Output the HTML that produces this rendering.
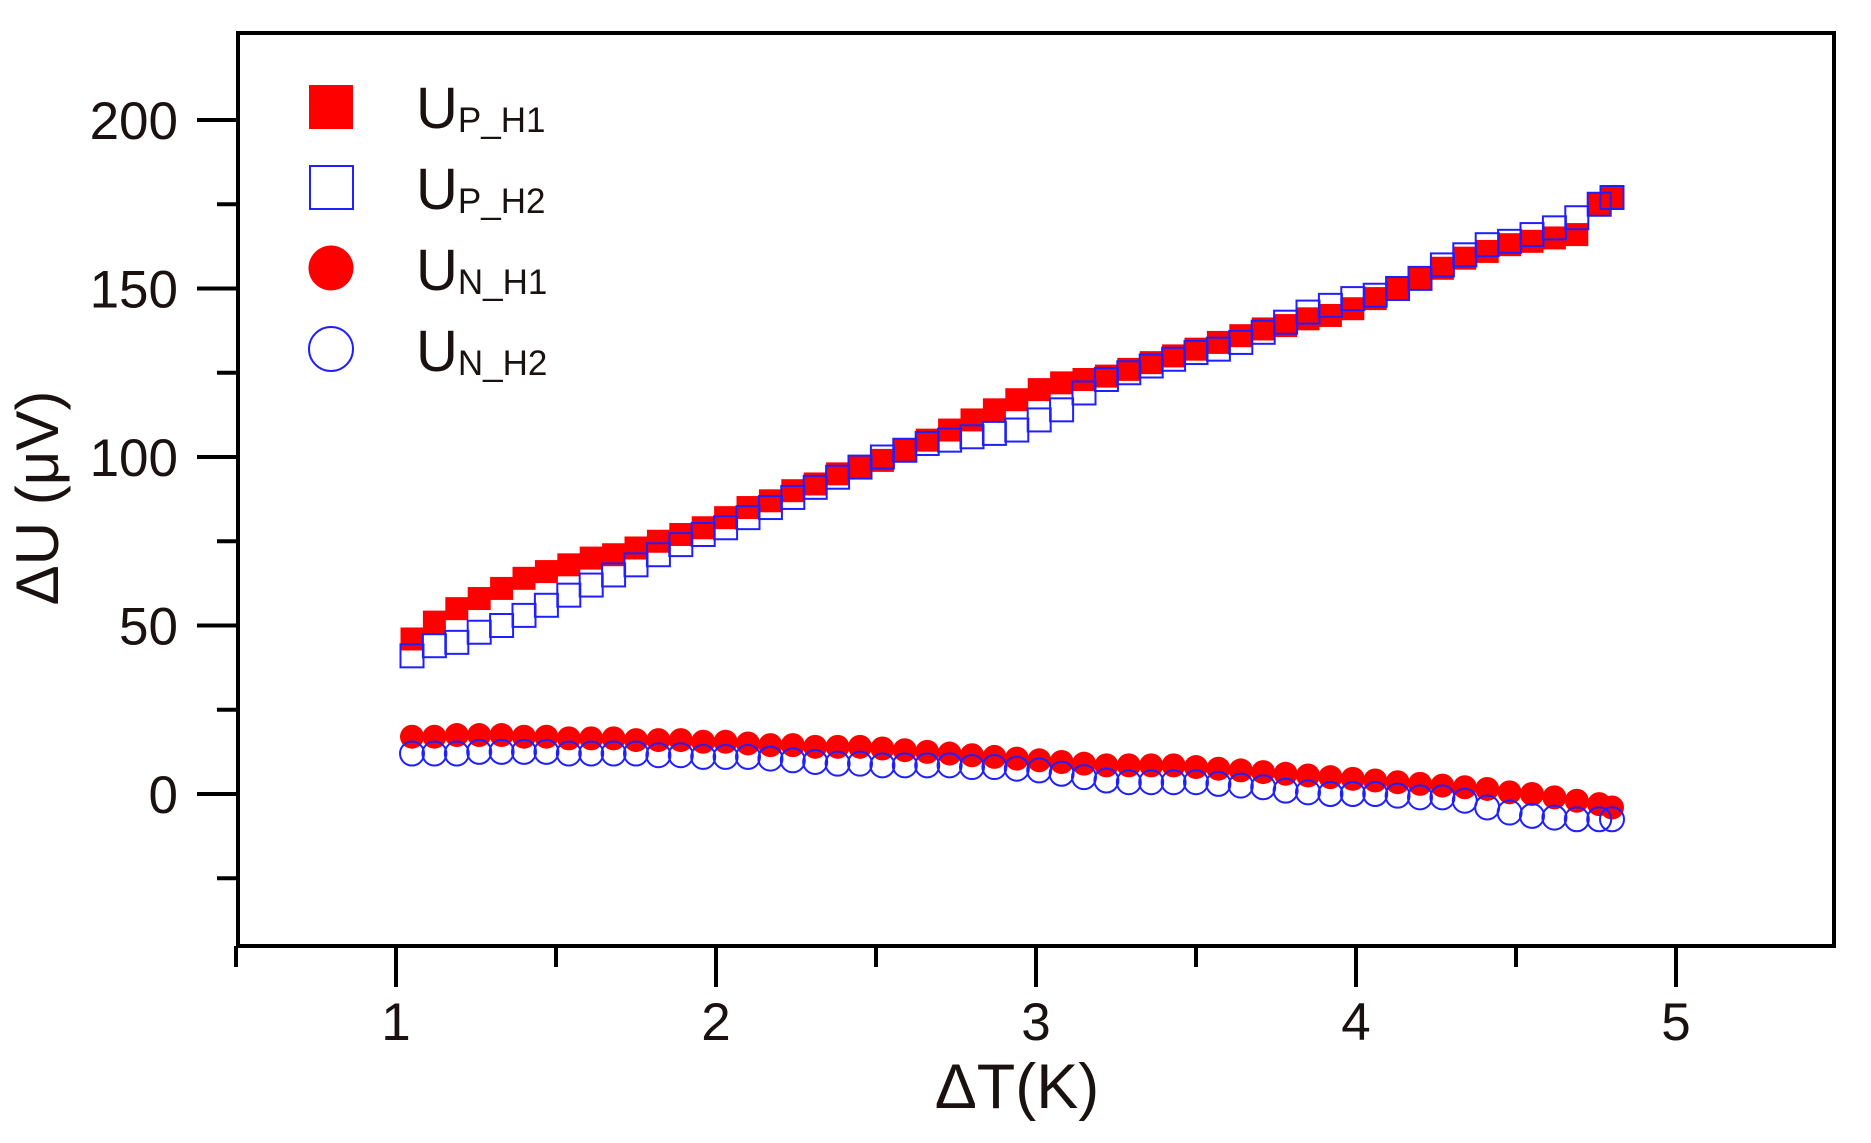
<!DOCTYPE html>
<html><head><meta charset="utf-8"><style>
html,body{margin:0;padding:0;background:#fff;}
svg{display:block;font-family:"Liberation Sans",Arial,sans-serif;}
</style></head><body>
<svg id="chart" width="1871" height="1143" viewBox="0 0 1871 1143">
<g id="axes"></g>
<g id="marks"></g>
<g id="legend">
  <rect x="309" y="85" width="44" height="44" fill="#ff0000"/>
  <text x="416" y="128" font-size="58" fill="#1a1210">U<tspan font-size="35" dy="4">P_H1</tspan></text>
  <rect x="310" y="166" width="43" height="43" fill="none" stroke="#1f1fff" stroke-width="2"/>
  <text x="416" y="209" font-size="58" fill="#1a1210">U<tspan font-size="35" dy="4">P_H2</tspan></text>
  <circle cx="331" cy="268" r="22.5" fill="#ff0000"/>
  <text x="416" y="290" font-size="58" fill="#1a1210">U<tspan font-size="35" dy="4">N_H1</tspan></text>
  <circle cx="331" cy="349" r="22" fill="none" stroke="#1f1fff" stroke-width="2"/>
  <text x="416" y="371" font-size="58" fill="#1a1210">U<tspan font-size="35" dy="4">N_H2</tspan></text>
</g>
<text x="1017" y="1108" font-size="63" text-anchor="middle" fill="#1a1210">ΔT(K)</text>
<text transform="translate(58,498) rotate(-90)" font-size="60" text-anchor="middle" fill="#1a1210">ΔU (μV)</text>
</svg>
<script>
const xs = [1.05,1.12,1.19,1.26,1.33,1.40,1.47,1.54,1.61,1.68,1.75,1.82,1.89,1.96,2.03,2.10,2.17,2.24,2.31,2.38,2.45,2.52,2.59,2.66,2.73,2.80,2.87,2.94,3.01,3.08,3.15,3.22,3.29,3.36,3.43,3.50,3.57,3.64,3.71,3.78,3.85,3.92,3.99,4.06,4.13,4.20,4.27,4.34,4.41,4.48,4.55,4.62,4.69,4.76,4.80];
const upH1 = [46,51,55,58,61,64,66,68,70,71,73,75,77,79,82,85,87,90,92,95,97,99,102,105,108,111,114,117,120,122,123,124,126,128,130,132,134,136,138,139,141,142,144,147,150,153,156,159,161,163,164,165,166,175,177];
const upH2 = [41,44,45,48,50,53,56,59,62,65,68,71,74,77,79,82,85,88,91,94,97,100,102,104,105,106,107,108,111,114,119,123,125,127,129,131,132,134,137,140,143,145,147,148,150,153,157,160,163,164,166,168,171,175,177];
const unH1 = [17,17,17.5,17.5,17.5,17,17,16.5,16.5,16.5,16,16,16,15.5,15.5,15,14.5,14.5,14,14,14,13.5,13,12.5,12,11.5,11,10.5,10,9.5,9,8.5,8.5,8.5,8.5,8,7.5,7,6.5,6,5.5,5,4.5,4,3.5,3,2.5,2,1.5,0.5,0,-1,-2,-3,-4];
const unH2 = [12,12,12,12.5,12.5,12.5,12.5,12,12,12,12,11.5,11.5,11,11,11,10.5,10,9.5,9,9,8.5,8.5,8.5,8.5,8,8,7.5,7,6,5,4,3.5,3.5,3.5,3.5,3,2.5,2,1,0.5,0,0,0,-0.5,-1,-1,-2,-4,-5.5,-6.5,-7,-7.5,-7.5,-7.5];
const xMajor = [1,2,3,4,5];
const xMinor = [0.5,1.5,2.5,3.5,4.5];
const yMajor = [0,50,100,150,200];
const yMinor = [-25,25,75,125,175];

const NS = "http://www.w3.org/2000/svg";
const L = 238, R = 1834, T = 33, B = 946;
function sx(v){ return 396 + (v - 1) * 320; }
function sy(v){ return 794 - v * 3.37; }
function mk(tag, attrs, parent){ const e = document.createElementNS(NS, tag); for (const k in attrs) e.setAttribute(k, attrs[k]); parent.appendChild(e); return e; }
const axes = document.getElementById('axes');
const marks = document.getElementById('marks');

let frame = mk('rect', {x:L, y:T, width:R-L, height:B-T, fill:'none', stroke:'#000', 'stroke-width':4}, axes);



xMajor.forEach(v => {
  const t = mk('line', {x1:sx(v), x2:sx(v), y1:B, y2:B+41, stroke:'#000', 'stroke-width':4}, axes);
  
  
  const lb = mk('text', {x:sx(v), y:B+94, 'font-size':53, 'text-anchor':'middle', fill:'#1a1210'}, axes);
  lb.textContent = String(v);
  
  
});
xMinor.forEach(v => {
  const t = mk('line', {x1:sx(v), x2:sx(v), y1:B, y2:B+21, stroke:'#000', 'stroke-width':4}, axes);
  
  
});
yMajor.forEach(v => {
  const t = mk('line', {x1:L-41, x2:L, y1:sy(v), y2:sy(v), stroke:'#000', 'stroke-width':4}, axes);
  
  
  const lb = mk('text', {x:178, y:sy(v)+19, 'font-size':53, 'text-anchor':'end', fill:'#1a1210'}, axes);
  lb.textContent = String(v);
  
  
});
yMinor.forEach(v => {
  const t = mk('line', {x1:L-21, x2:L, y1:sy(v), y2:sy(v), stroke:'#000', 'stroke-width':4}, axes);
  
  
});

const S = 23;
xs.forEach((x, i) => {
  const r = mk('rect', {x:sx(x)-S/2, y:sy(upH1[i])-S/2, width:S, height:S, fill:'#ff0000'}, marks);
  
  
});
xs.forEach((x, i) => {
  const c = mk('circle', {cx:sx(x), cy:sy(unH1[i]), r:12, fill:'#ff0000'}, marks);
  
  
});
xs.forEach((x, i) => {
  const r = mk('rect', {x:sx(x)-S/2, y:sy(upH2[i])-S/2, width:S, height:S, fill:'none', stroke:'#1f1fff', 'stroke-width':2}, marks);
  
  
});
xs.forEach((x, i) => {
  const c = mk('circle', {cx:sx(x), cy:sy(unH2[i]), r:12, fill:'none', stroke:'#1f1fff', 'stroke-width':2}, marks);
  
  
});
</script>
</body></html>
